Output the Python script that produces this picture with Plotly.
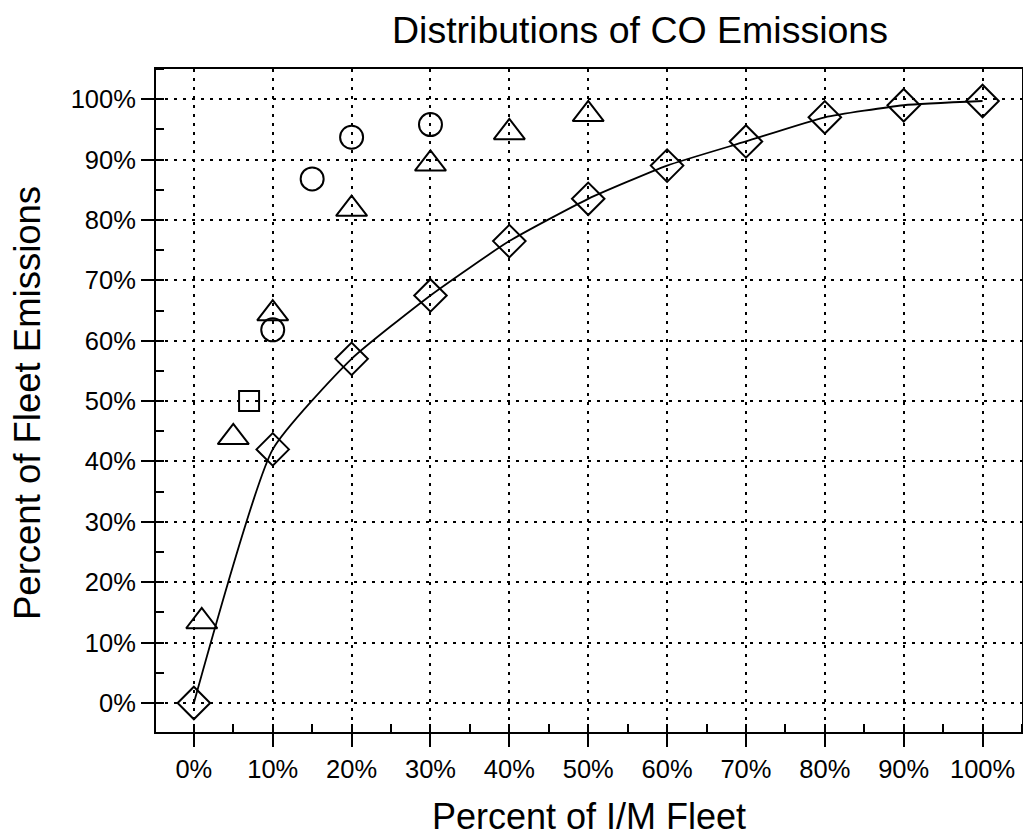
import plotly.graph_objects as go

# Data (percent values)
curve_x = [0, 10, 20, 30, 40, 50, 60, 70, 80, 90, 100]
curve_y = [0, 42, 57, 67.5, 76.5, 83.5, 89, 93, 97, 99, 99.7]

tri_x = [1, 5, 10, 20, 30, 40, 50]
tri_y = [13.5, 44, 64.5, 81.8, 89.3, 94.5, 97.5]

circ_x = [10, 15, 20, 30]
circ_y = [61.8, 86.8, 93.7, 95.8]

sq_x = [7]
sq_y = [50]

tick_vals = [0, 10, 20, 30, 40, 50, 60, 70, 80, 90, 100]
tick_text = [f"{v}%" for v in tick_vals]

FONT = "Liberation Sans, Arial, sans-serif"
mk_line = dict(color="black", width=2)

fig = go.Figure()
fig.add_trace(go.Scatter(
    x=curve_x, y=curve_y, mode="lines+markers",
    line=dict(color="black", width=1.8, shape="spline", smoothing=0.5),
    marker=dict(symbol="diamond-open", size=25, color="black", line=mk_line),
    showlegend=False, cliponaxis=False))
fig.add_trace(go.Scatter(
    x=tri_x, y=tri_y, mode="markers",
    marker=dict(symbol="triangle-up-open", size=27, color="black", line=mk_line),
    showlegend=False, cliponaxis=False))
fig.add_trace(go.Scatter(
    x=circ_x, y=circ_y, mode="markers",
    marker=dict(symbol="circle-open", size=23, color="black", line=mk_line),
    showlegend=False, cliponaxis=False))
fig.add_trace(go.Scatter(
    x=sq_x, y=sq_y, mode="markers",
    marker=dict(symbol="square-open", size=20, color="black", line=mk_line),
    showlegend=False, cliponaxis=False))

axis_common = dict(
    tickvals=tick_vals, ticktext=tick_text, automargin=False,
    showgrid=True, gridcolor="black", gridwidth=2, griddash="3px,6px",
    zeroline=False, showline=True, linecolor="black", linewidth=2, mirror=True,
    ticks="outside", ticklen=13, tickwidth=2, tickcolor="black",
    tickfont=dict(family=FONT, size=25.5, color="black"),
    minor=dict(dtick=5, ticks="inside", ticklen=8, tickwidth=1.5, tickcolor="black", showgrid=False),
)

fig.update_xaxes(range=[-4.8, 105], **axis_common)
fig.update_yaxes(range=[-4.8, 105], **axis_common)

fig.update_layout(
    width=1023, height=839,
    margin=dict(l=156, r=1, t=69, b=107),
    paper_bgcolor="white", plot_bgcolor="white",
    title=dict(text="Distributions of CO Emissions", x=(640 - 156) / (1022 - 156), xref="paper",
               xanchor="center", y=1 - 30 / 839, yanchor="middle",
               font=dict(family=FONT, size=37.5, color="black")),
    annotations=[
        dict(text="Percent of I/M Fleet", xref="paper", yref="paper",
             x=(589 - 156) / (1022 - 156), y=-(816 - 732) / (732 - 69),
             xanchor="center", yanchor="middle", showarrow=False,
             font=dict(family=FONT, size=36, color="black")),
        dict(text="Percent of Fleet Emissions", xref="paper", yref="paper",
             x=(27 - 156) / (1022 - 156), y=(732 - 403) / (732 - 69),
             xanchor="center", yanchor="middle", showarrow=False, textangle=-90,
             font=dict(family=FONT, size=36.5, color="black")),
    ],
)

fig.write_html("out.html", config={"displayModeBar": False},
               post_script="document.body.style.margin='0';document.body.style.overflow='hidden';")
